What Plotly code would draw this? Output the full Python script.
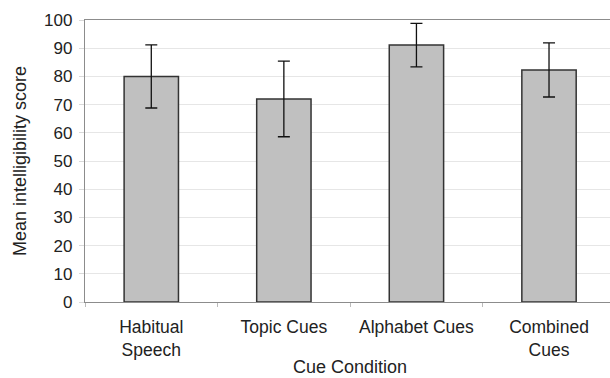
import plotly.graph_objects as go

categories = ["Habitual<br>Speech", "Topic Cues", "Alphabet Cues", "Combined<br>Cues"]
means = [80.0, 72.0, 91.1, 82.3]
errors = [11.2, 13.4, 7.7, 9.6]
yticks = [0, 10, 20, 30, 40, 50, 60, 70, 80, 90, 100]
y_title = "Mean intelligibility score"
x_title = "Cue Condition"

fig = go.Figure()
fig.add_trace(go.Bar(
    x=categories, y=means, width=0.41,
    marker=dict(color="#c0c0c0", line=dict(color="#333333", width=1.5)),
    error_y=dict(type="data", array=errors, visible=True, color="#111111", thickness=1.3, width=6),
))

fam = "Liberation Sans, Arial, sans-serif"
title_font = dict(family=fam, size=18, color="#222222")
fig.update_layout(
    width=610, height=378,
    margin=dict(l=85, r=0, t=20, b=76),
    paper_bgcolor="white", plot_bgcolor="white",
    font=dict(family=fam, size=16, color="#222222"), showlegend=False,
    xaxis=dict(
        range=[-0.5, 3.46], showline=True, linecolor="#8c8c8c", linewidth=1.3, mirror=True,
        ticks="outside", tickson="boundaries", ticklen=4, tickcolor="#bbbbbb",
        tickfont=dict(family=fam, size=17.5, color="#222222"), ticklabelstandoff=9,
        showgrid=False, automargin=False,
    ),
    yaxis=dict(
        range=[0, 100], tickvals=yticks, showline=True, linecolor="#8c8c8c", linewidth=1.3,
        ticks="outside", ticklen=5, tickcolor="#d9d9d9",
        tickfont=dict(family=fam, size=17, color="#222222"), ticklabelstandoff=3,
        gridcolor="#e6e6e6", gridwidth=1, zeroline=False,
        automargin=False,
    ),
    annotations=[
        dict(text=y_title, textangle=-90, xref="paper", yref="paper",
             x=-65 / 525, y=0.5, xanchor="center", yanchor="middle", showarrow=False,
             font=title_font),
        dict(text=x_title, xref="paper", yref="paper",
             x=(350 - 85) / 525, y=-(367 - 302) / 282, xanchor="center", yanchor="middle",
             showarrow=False, font=title_font),
    ],
)
fig.write_html("out.html", config={"displayModeBar": False},
               post_script="document.body.style.margin='0';document.body.style.overflow='hidden';")
